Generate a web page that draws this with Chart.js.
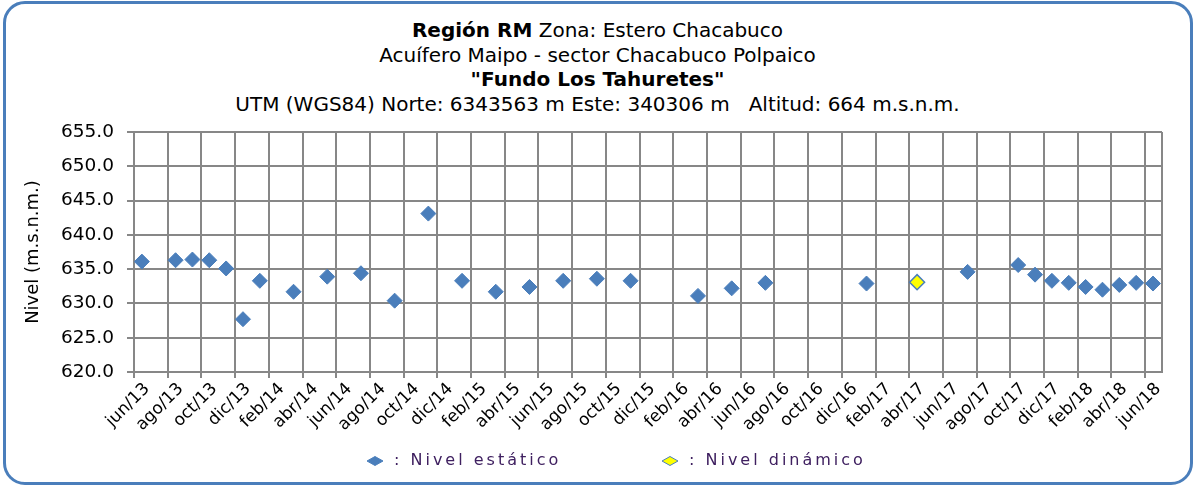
<!DOCTYPE html>
<html lang="es">
<head>
<meta charset="utf-8">
<title>Fundo Los Tahuretes</title>
<script src="https://cdn.jsdelivr.net/npm/chart.js@4.4.1/dist/chart.umd.min.js"></script>
<style>
  html, body { margin: 0; padding: 0; background: #fff; }
  body { width: 1195px; height: 486px; position: relative; overflow: hidden; font-family: "DejaVu Sans", Verdana, sans-serif; }
  #marco { position: absolute; left: 3px; top: 1px; width: 1190px; height: 484px; box-sizing: border-box; border: 3px solid #4a7ebb; border-radius: 22px; }
  #titulo { position: absolute; left: 0; top: 18px; width: 1195px; text-align: center; font-size: 20px; line-height: 24.6px; color: #000; }
  #grafico { position: absolute; left: 0; top: 0; }
</style>
</head>
<body>
<div id="marco"></div>
<div id="titulo">
  <div><b>Región RM</b> Zona: Estero Chacabuco</div>
  <div>Acuífero Maipo - sector Chacabuco Polpaico</div>
  <div><b>"Fundo Los Tahuretes"</b></div>
  <div>UTM (WGS84) Norte: 6343563 m Este: 340306 m &nbsp; Altitud: 664 m.s.n.m.</div>
</div>
<canvas id="grafico" width="1195" height="486"></canvas>
<script>
// eje de tiempo: meses contados desde el inicio del eje
const inicioEje = '2013-06-01';
const finEje = '2018-07-01';
const etiquetasX = ['jun/13', 'ago/13', 'oct/13', 'dic/13', 'feb/14', 'abr/14', 'jun/14', 'ago/14',
  'oct/14', 'dic/14', 'feb/15', 'abr/15', 'jun/15', 'ago/15', 'oct/15', 'dic/15', 'feb/16', 'abr/16',
  'jun/16', 'ago/16', 'oct/16', 'dic/16', 'feb/17', 'abr/17', 'jun/17', 'ago/17', 'oct/17', 'dic/17',
  'feb/18', 'abr/18', 'jun/18'];
const ticksY = [620, 625, 630, 635, 640, 645, 650, 655];

// mediciones (m.s.n.m.)
const fechasEstatico = ['2013-06-15', '2013-08-15', '2013-09-15', '2013-10-15', '2013-11-15', '2013-12-15',
  '2014-01-15', '2014-03-15', '2014-05-15', '2014-07-15', '2014-09-15', '2014-11-15',
  '2015-01-15', '2015-03-15', '2015-05-15', '2015-07-15', '2015-09-15', '2015-11-15',
  '2016-03-15', '2016-05-15', '2016-07-15', '2017-01-15', '2017-07-15', '2017-10-15',
  '2017-11-15', '2017-12-15', '2018-01-15', '2018-02-15', '2018-03-15', '2018-04-15',
  '2018-05-15', '2018-06-15'];
const nivelEstatico = [636.1, 636.3, 636.4, 636.3, 635.1, 627.7,
  633.3, 631.7, 633.9, 634.4, 630.4, 643.1,
  633.3, 631.7, 632.4, 633.3, 633.6, 633.3,
  631.1, 632.2, 633.0, 632.9, 634.6, 635.6,
  634.2, 633.3, 633.0, 632.4, 632.0, 632.7,
  633.0, 632.9];
const fechasDinamico = ['2017-04-15'];
const nivelDinamico = [633.1];

function mesesDesde(fecha) {
  const [a0, m0] = inicioEje.split('-').map(Number);
  const [a, m, d] = fecha.split('-').map(Number);
  return (a - a0) * 12 + (m - m0) + (d - 1) / 30;
}

function puntos(fechas, valores) {
  return fechas.map((f, i) => ({ x: mesesDesde(f), y: valores[i] }));
}

const colorGrilla = '#878787';
const azul = '#4a7ebb';
const fuente = '"DejaVu Sans", Verdana, sans-serif';

// borde derecho del area de trazado
const bordeArea = {
  id: 'bordeArea',
  beforeDatasetsDraw(chart) {
    const { ctx, chartArea } = chart;
    ctx.save();
    ctx.strokeStyle = colorGrilla;
    ctx.lineWidth = 2;
    ctx.beginPath();
    ctx.moveTo(Math.round(chartArea.right), chartArea.top);
    ctx.lineTo(Math.round(chartArea.right), chartArea.bottom);
    ctx.stroke();
    ctx.restore();
  }
};

// leyenda con rombo aplanado y texto espaciado
const leyenda = {
  id: 'leyenda',
  afterDraw(chart) {
    const ctx = chart.ctx;
    const y = chart.chartArea.bottom + 89;
    const posiciones = [chart.chartArea.left + 241, chart.chartArea.left + 536];
    chart.data.datasets.forEach((ds, i) => {
      const x = posiciones[i];
      ctx.save();
      ctx.beginPath();
      ctx.moveTo(x - 8, y);
      ctx.lineTo(x, y - 4.5);
      ctx.lineTo(x + 8, y);
      ctx.lineTo(x, y + 4.5);
      ctx.closePath();
      ctx.fillStyle = ds.backgroundColor;
      ctx.fill();
      ctx.lineWidth = 1;
      ctx.strokeStyle = ds.borderColor;
      ctx.stroke();
      ctx.font = '16px ' + fuente;
      ctx.letterSpacing = '3px';
      ctx.fillStyle = '#3f2060';
      ctx.textBaseline = 'middle';
      ctx.textAlign = 'left';
      ctx.fillText(': ' + ds.label, x + 19, y);
      ctx.restore();
    });
  }
};

new Chart(document.getElementById('grafico'), {
  type: 'scatter',
  data: {
    datasets: [
      {
        label: 'Nivel estático',
        data: puntos(fechasEstatico, nivelEstatico),
        pointStyle: 'rectRot',
        pointRadius: 7.5,
        backgroundColor: azul,
        borderColor: azul,
        borderWidth: 1
      },
      {
        label: 'Nivel dinámico',
        data: puntos(fechasDinamico, nivelDinamico),
        pointStyle: 'rectRot',
        pointRadius: 7.5,
        backgroundColor: '#ffff00',
        borderColor: azul,
        borderWidth: 1.5
      }
    ]
  },
  options: {
    responsive: false,
    animation: false,
    layout: { padding: { left: 23, right: 33, top: 132, bottom: 43 } },
    plugins: {
      legend: { display: false },
      tooltip: { enabled: false },
      title: { display: false }
    },
    scales: {
      x: {
        type: 'linear',
        min: 0,
        max: mesesDesde(finEje),
        afterFit: (scale) => { scale.height = 71; },
        ticks: {
          stepSize: 2,
          includeBounds: false,
          autoSkip: false,
          maxRotation: 45,
          minRotation: 45,
          padding: 1,
          labelOffset: 13,
          color: '#000',
          font: { family: fuente, size: 17 },
          callback: (v) => etiquetasX[v / 2] ?? ''
        },
        grid: { color: colorGrilla, lineWidth: 2, tickLength: 6, tickColor: colorGrilla },
        border: { color: colorGrilla, width: 2 }
      },
      y: {
        min: ticksY[0],
        max: ticksY[ticksY.length - 1],
        afterFit: (scale) => { scale.width = 111; },
        ticks: {
          stepSize: ticksY[1] - ticksY[0],
          padding: 13,
          color: '#000',
          font: { family: fuente, size: 18.5 },
          callback: (v) => v.toFixed(1)
        },
        title: {
          display: true,
          text: 'Nivel (m.s.n.m.)',
          color: '#000',
          padding: 0,
          font: { family: fuente, size: 18 }
        },
        grid: { color: colorGrilla, lineWidth: 2, tickLength: 7, tickColor: colorGrilla },
        border: { color: colorGrilla, width: 2 }
      }
    }
  },
  plugins: [bordeArea, leyenda]
});
</script>
</body>
</html>
